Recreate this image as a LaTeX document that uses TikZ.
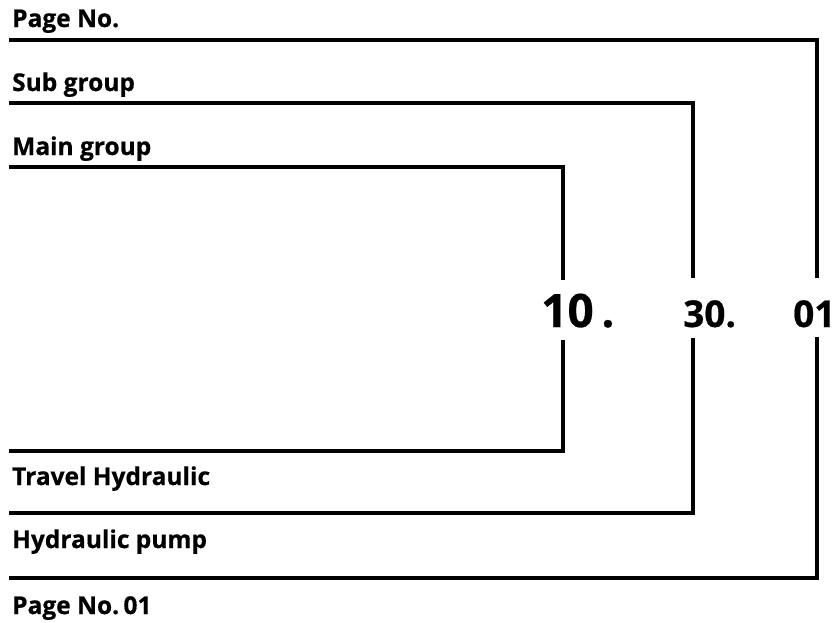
\documentclass[tikz,border=0pt]{standalone}
\usepackage{fontspec}
\setmainfont{Open Sans}[BoldFeatures={FakeBold=0.6}]
\begin{document}
\begin{tikzpicture}[x=1pt,y=1pt,
  lbl/.style={anchor=base west,inner sep=0pt,font=\fontsize{24.5}{28}\selectfont\bfseries},
  bignum/.style={anchor=base west,inner sep=0pt,font=\fontsize{46}{50}\selectfont\bfseries},
  midnum/.style={anchor=base west,inner sep=0pt,font=\fontsize{37}{40}\selectfont\bfseries},
  ln/.style={line width=3.4pt,line cap=rect,line join=miter}]
\useasboundingbox (0,0) rectangle (834,-622);
% labels
\node[lbl] (pg) at (12,-27) {Page No.};
\node[lbl] (sg) at (12,-91) {Sub group};
\node[lbl] (mg) at (12,-155) {Main group};
\node[lbl] (th) at (12,-485) {Travel Hydraulic};
\node[lbl] (hp) at (12,-548) {Hydraulic pump};
\node[lbl] (pg1) at (12,-614) {Page No.\kern-2pt\ 01};
% numbers
\node[bignum] (n10) at (541,-327) {10\,.};
\node[midnum] (n30) at (683,-327) {30.};
\node[midnum] (n01) at (793,-327) {01};
% coordinates
\coordinate (a1) at (11,-40);  \coordinate (a2) at (817,-40);
\coordinate (a3) at (817,-276); \coordinate (a4) at (817,-339);
\coordinate (a5) at (817,-578); \coordinate (a6) at (11,-578);
\coordinate (b1) at (11,-103); \coordinate (b2) at (693,-103);
\coordinate (b3) at (693,-276); \coordinate (b4) at (693,-340);
\coordinate (b5) at (693,-513); \coordinate (b6) at (11,-513);
\coordinate (c1) at (11,-167); \coordinate (c2) at (563,-167);
\coordinate (c3) at (563,-278); \coordinate (c4) at (563,-342);
\coordinate (c5) at (563,-451); \coordinate (c6) at (11,-451);
\draw[ln] (a1) -- (a2) -- (a3);
\draw[ln] (a4) -- (a5) -- (a6);
\draw[ln] (b1) -- (b2) -- (b3);
\draw[ln] (b4) -- (b5) -- (b6);
\draw[ln] (c1) -- (c2) -- (c3);
\draw[ln] (c4) -- (c5) -- (c6);
\end{tikzpicture}
\end{document}
